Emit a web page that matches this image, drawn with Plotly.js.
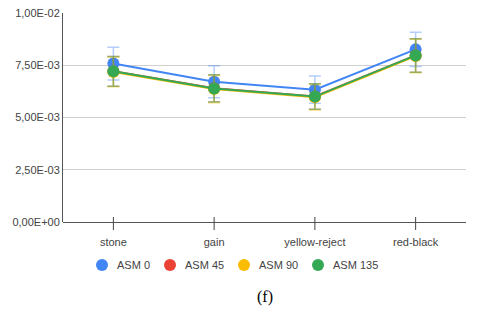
<!DOCTYPE html>
<html><head><meta charset="utf-8">
<script src="https://cdn.plot.ly/plotly-3.0.1.min.js"></script>
<style>html,body{margin:0;padding:0;background:#fff;}#c{width:480px;height:311px;}</style>
</head><body><div id="c"></div>
<script>
const categories = ["stone", "gain", "yellow-reject", "red-black"];
const seriesNames = ["ASM 0", "ASM 45", "ASM 90", "ASM 135"];
const asm0 = [0.00758, 0.00671, 0.00633, 0.00826];
const asm45 = [0.00721, 0.00640, 0.00601, 0.00797];
const asm90 = [0.00718, 0.00636, 0.00597, 0.00794];
const asm135 = [0.00721, 0.00639, 0.00600, 0.00797];
const err0 = [0.00078, 0.00077, 0.00065, 0.00082];
const err45 = [0.00071, 0.00065, 0.00061, 0.00080];
const err90 = [0.00071, 0.00065, 0.00061, 0.00080];
const err135 = [0.00071, 0.00065, 0.00061, 0.00080];
const yTickVals = [0, 0.0025, 0.005, 0.0075, 0.01];
const yTickText = ["0,00E+00", "2,50E-03", "5,00E-03", "7,50E-03", "1,00E-02"];

const colors = ["#4285f4", "#ea4335", "#fbbc04", "#34a853"];
const errColors = ["rgba(66,133,244,0.4)", "rgba(234,67,53,0.4)", "rgba(251,188,4,0.5)", "rgba(52,168,83,0.5)"];
const vals = [asm0, asm45, asm90, asm135];
const errs = [err0, err45, err90, err135];

const traces = [];
vals.forEach((v, i) => {
  traces.push({
    x: categories, y: v, type: "scatter", mode: "lines+markers",
    name: seriesNames[i], showlegend: false,
    line: {color: colors[i], width: 2},
    marker: {color: colors[i], size: 12},
    error_y: {type: "data", array: errs[i], visible: true, color: errColors[i], thickness: 1.5, width: 6}
  });
});

// plot area: 403 x 209 px, left 63, top 13, bottom 222
const W = 403, H = 209, L = 63, B = 222;
const shapes = [];
const annotations = [];
// crossing category ticks on the x axis
categories.forEach(c => {
  shapes.push({
    type: "line", xref: "x", yref: "paper", x0: c, x1: c,
    y0: -8 / H, y1: 5 / H, line: {color: "#444", width: 1}
  });
});
// manual legend
const legendMarkerPx = [102, 170, 244, 318];
const legendYpx = 265;
seriesNames.forEach((n, i) => {
  const cx = (legendMarkerPx[i] - L) / W;
  const cy = (B - legendYpx) / H;
  const r = 6;
  shapes.push({
    type: "circle", xref: "paper", yref: "paper",
    x0: cx - r / W, x1: cx + r / W, y0: cy - r / H, y1: cy + r / H,
    fillcolor: colors[i], line: {width: 0}
  });
  annotations.push({
    text: n, xref: "paper", yref: "paper", x: cx + 13 / W, xanchor: "left",
    y: cy, yanchor: "middle", showarrow: false,
    font: {size: 11, color: "#444"}
  });
});
annotations.push({
  text: "(f)", xref: "paper", yref: "paper", x: 0.5, xanchor: "center",
  y: (B - 297) / H, yanchor: "middle", showarrow: false,
  font: {family: "Liberation Serif, Times New Roman, serif", size: 16, color: "#000"}
});

const layout = {
  width: 480, height: 311,
  margin: {l: L, r: 480 - L - W, t: 13, b: 311 - B},
  paper_bgcolor: "#fff", plot_bgcolor: "#fff",
  font: {family: "Liberation Sans, Arial, sans-serif", size: 11, color: "#444"},
  xaxis: {
    type: "category", showgrid: false, zeroline: false, showline: false,
    ticks: "", ticklabelstandoff: 12, tickfont: {size: 11, color: "#444"}, range: [-0.5, 3.5]
  },
  yaxis: {
    range: [0, 0.01], tickvals: yTickVals, ticktext: yTickText,
    showgrid: true, gridcolor: "#d0d0d0", gridwidth: 1,
    zeroline: true, zerolinecolor: "#555", zerolinewidth: 1,
    showline: true, linecolor: "#555", linewidth: 1,
    ticks: "", tickfont: {size: 11, color: "#444"}
  },
  showlegend: false,
  shapes: shapes,
  annotations: annotations
};
Plotly.newPlot("c", traces, layout, {displayModeBar: false, staticPlot: true});
</script>
</body></html>
